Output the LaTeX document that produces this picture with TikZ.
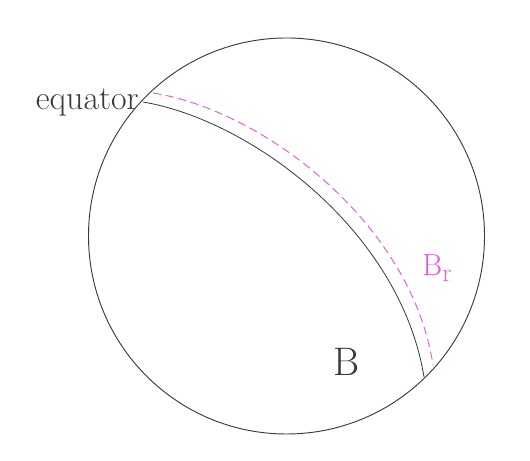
\documentclass[tikz,border=0pt]{standalone}
\usepackage{xcolor}
\usepackage{tikz}
\usetikzlibrary{positioning,calc}
\definecolor{ink}{HTML}{3A3A3A}
\definecolor{pen}{HTML}{E05CD8}
\tikzset{
  globe/.style={circle,draw=ink,line width=0.8pt,inner sep=0pt,minimum size=11.88cm},
  eqline/.style={draw=ink,line width=0.7pt},
  brline/.style={draw=pen,line width=0.8pt,dash pattern=on 7pt off 4pt},
  hand/.style={text=ink,inner sep=0pt},
}

\begin{document}
\begin{tikzpicture}[x=0.03cm,y=0.03cm]
\useasboundingbox (0,0) rectangle (530,461);

% ==== sphere (centre x = 286.5) ====
\node[globe] (sphere) at (286.5,225) {};

% ==== equator and B_r boundary ====
\coordinate (eqW) at (143,359);
\coordinate (eqE) at (424,84);
\coordinate (brW) at (153,368);
\coordinate (brE) at (433,96);
\draw[eqline] (eqW) .. controls (250,341) and (400,231) .. (eqE);
\draw[brline] (brW) .. controls (262,351) and (411,239) .. (brE);

% ==== labels ====
\node[hand,anchor=base east,font=\fontsize{29}{29}\selectfont] (eqlabel) at (139,351) {equator};
\node[hand,font=\fontsize{34}{34}\selectfont] (blabel) at (347,99) {B};
\node[hand,text=pen,font=\fontsize{26}{26}\selectfont] (brlabel) at (437,193) {B{\fontsize{22}{22}\selectfont\raisebox{-0.25em}{r}}};

\end{tikzpicture}
\end{document}
